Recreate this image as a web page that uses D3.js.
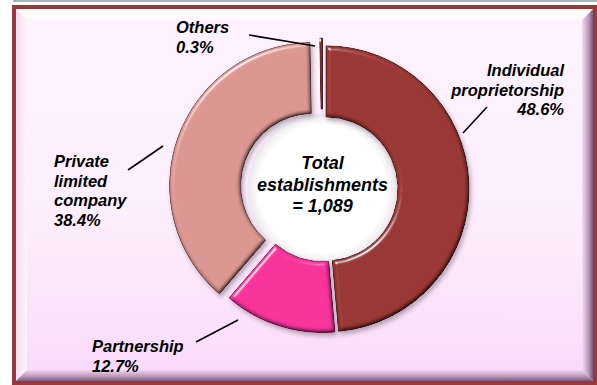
<!DOCTYPE html>
<html>
<head>
<meta charset="utf-8">
<script src="https://cdn.jsdelivr.net/npm/d3@7"></script>
<style>
  html, body { margin: 0; padding: 0; background: #ffffff; }
  svg { display: block; }
  text { font-family: "Liberation Sans", Arial, sans-serif; font-weight: bold; font-style: italic; fill: #000; }
</style>
</head>
<body>
<svg id="chart" width="597" height="385"></svg>
<script>
// Establishments by legal form (share of total, %)
const categories = ["Individual proprietorship", "Partnership", "Private limited company", "Others"];
const shares = [48.6, 12.7, 38.4, 0.3];
const totalEstablishments = 1089;
// label lines shown beside each slice
const labelLines = [["Individual", "proprietorship"], ["Partnership"], ["Private", "limited", "company"], ["Others"]];

// Styling
const sliceColors = ["#9a3835", "#f7349b", "#dc9792", "#8e2b2b"];
const explode = [3.5, 0.5, 10.5, 8];

// Label layout: text anchor, alignment and leader line ends
const labelLayout = [
  { x: 564, y: 76, anchor: "end",   leader: [[487, 107], [463, 133]] },
  { x: 92,  y: 352, anchor: "start", leader: [[196, 342], [238, 320]] },
  { x: 54,  y: 167, anchor: "start", leader: [[128, 170], [163, 146]] },
  { x: 176, y: 33,  anchor: "start", leader: [[249, 35], [315, 46]] }
];

const W = 597, H = 385;
const svg = d3.select("#chart");
const defs = svg.append("defs");

// ---- frame gradients ----
const bg = defs.append("linearGradient").attr("id", "bg").attr("x1", 0).attr("y1", 0).attr("x2", 0).attr("y2", 1);
bg.append("stop").attr("offset", "0%").attr("stop-color", "#fdf3fd");
bg.append("stop").attr("offset", "55%").attr("stop-color", "#fdeefd");
bg.append("stop").attr("offset", "100%").attr("stop-color", "#fadafa");

const gR = defs.append("linearGradient").attr("id", "bevR").attr("x1", 0).attr("y1", 0).attr("x2", 1).attr("y2", 0);
gR.append("stop").attr("offset", "0%").attr("stop-color", "#f6dcf6");
gR.append("stop").attr("offset", "60%").attr("stop-color", "#b99ab9");
gR.append("stop").attr("offset", "100%").attr("stop-color", "#7a587a");
const gB = defs.append("linearGradient").attr("id", "bevB").attr("x1", 0).attr("y1", 0).attr("x2", 0).attr("y2", 1);
gB.append("stop").attr("offset", "0%").attr("stop-color", "#f3d4f3");
gB.append("stop").attr("offset", "60%").attr("stop-color", "#b797b7");
gB.append("stop").attr("offset", "100%").attr("stop-color", "#7a587a");
const gT = defs.append("linearGradient").attr("id", "bevT").attr("x1", 0).attr("y1", 0).attr("x2", 0).attr("y2", 1);
gT.append("stop").attr("offset", "0%").attr("stop-color", "#ffffff");
gT.append("stop").attr("offset", "100%").attr("stop-color", "#fef8fe");
const gL = defs.append("linearGradient").attr("id", "bevL").attr("x1", 0).attr("y1", 0).attr("x2", 1).attr("y2", 0);
gL.append("stop").attr("offset", "0%").attr("stop-color", "#f4e0f4");
gL.append("stop").attr("offset", "100%").attr("stop-color", "#fdf2fd");

// hole fill
const hole = defs.append("radialGradient").attr("id", "hole");
hole.append("stop").attr("offset", "0%").attr("stop-color", "#ffffff");
hole.append("stop").attr("offset", "85%").attr("stop-color", "#ffffff");
hole.append("stop").attr("offset", "100%").attr("stop-color", "#ebe6ea");

// soft bevel + shadow for slices
const f = defs.append("filter").attr("id", "soft")
  .attr("x", "-20%").attr("y", "-20%").attr("width", "140%").attr("height", "140%");
f.append("feGaussianBlur").attr("in", "SourceAlpha").attr("stdDeviation", 2).attr("result", "b");
const diff = f.append("feDiffuseLighting").attr("in", "b").attr("surfaceScale", 4)
  .attr("diffuseConstant", 1).attr("lighting-color", "#ffffff").attr("result", "d");
diff.append("feDistantLight").attr("azimuth", 235).attr("elevation", 60);
f.append("feComposite").attr("in", "SourceGraphic").attr("in2", "d").attr("operator", "arithmetic")
  .attr("k1", 1.155).attr("k2", 0).attr("k3", 0).attr("k4", 0).attr("result", "shade");
const spec = f.append("feSpecularLighting").attr("in", "b").attr("surfaceScale", 4)
  .attr("specularConstant", 1).attr("specularExponent", 45).attr("lighting-color", "#ffffff").attr("result", "s");
spec.append("feDistantLight").attr("azimuth", 235).attr("elevation", 35);
f.append("feComposite").attr("in", "s").attr("in2", "SourceAlpha").attr("operator", "in").attr("result", "si");
const m0 = f.append("feMerge").attr("result", "lit");
m0.append("feMergeNode").attr("in", "shade");
m0.append("feMergeNode").attr("in", "si");
f.append("feComposite").attr("in", "lit").attr("in2", "SourceAlpha").attr("operator", "in").attr("result", "litIn");
f.append("feGaussianBlur").attr("in", "SourceAlpha").attr("stdDeviation", 2).attr("result", "sb");
f.append("feOffset").attr("in", "sb").attr("dx", 2).attr("dy", 3).attr("result", "so");
f.append("feFlood").attr("flood-color", "#3a2a3a").attr("flood-opacity", 0.35).attr("result", "fc");
f.append("feComposite").attr("in", "fc").attr("in2", "so").attr("operator", "in").attr("result", "shadow");
const m = f.append("feMerge");
m.append("feMergeNode").attr("in", "shadow");
m.append("feMergeNode").attr("in", "litIn");

// ---- frame ----
svg.append("rect").attr("x", 13).attr("y", 0).attr("width", W - 13).attr("height", 2).attr("fill", "#a3b5bd");
svg.append("rect").attr("x", 12).attr("y", 5).attr("width", W - 12).attr("height", H - 5).attr("fill", "#993838");
const ix0 = 16, iy0 = 9, ix1 = 593, iy1 = 381, bw = 11;
svg.append("rect").attr("x", ix0).attr("y", iy0).attr("width", ix1 - ix0).attr("height", iy1 - iy0).attr("fill", "url(#bg)");
const poly = (pts, fill) => svg.append("polygon").attr("points", pts.map(p => p.join(",")).join(" ")).attr("fill", fill);
poly([[ix0, iy0], [ix1, iy0], [ix1 - bw, iy0 + bw], [ix0 + bw, iy0 + bw]], "url(#bevT)");
poly([[ix0, iy0], [ix0 + bw, iy0 + bw], [ix0 + bw, iy1 - bw], [ix0, iy1]], "url(#bevL)");
poly([[ix1, iy0], [ix1, iy1], [ix1 - bw, iy1 - bw], [ix1 - bw, iy0 + bw]], "url(#bevR)");
poly([[ix0, iy1], [ix1, iy1], [ix1 - bw, iy1 - bw], [ix0 + bw, iy1 - bw]], "url(#bevB)");

// ---- donut ----
const cx = 322.5, cy = 189, R = 143, r = 72;
const data = categories.map((c, i) => ({ name: c, value: shares[i], i }));
const pie = d3.pie().sort(null).value(d => d.value).startAngle(0).endAngle(2 * Math.PI);
const arc = d3.arc().innerRadius(r).outerRadius(R);
const arcs = pie(data);

const g = svg.append("g").attr("transform", `translate(${cx},${cy})`);
g.append("circle").attr("r", r + 3).attr("fill", "url(#hole)");

g.selectAll("path.slice").data(arcs).join("path")
  .attr("class", "slice")
  .attr("transform", d => {
    const a = (d.startAngle + d.endAngle) / 2, e = explode[d.data.i];
    return `translate(${e * Math.sin(a)},${-e * Math.cos(a)})`;
  })
  .attr("d", arc)
  .attr("fill", d => sliceColors[d.data.i])
  .attr("stroke", d => d3.color(sliceColors[d.data.i]).darker(1.6))
  .attr("stroke-width", 1)
  .attr("filter", "url(#soft)");

// centre caption
const cap = svg.append("text").attr("x", cx).attr("y", 169).attr("text-anchor", "middle").style("font-size", "18px");
["Total", "establishments", "= " + d3.format(",")(totalEstablishments)].forEach((t, k) =>
  cap.append("tspan").attr("x", cx).attr("dy", k === 0 ? 0 : 21.5).text(t));

// ---- labels and leader lines ----
const fmt = d3.format(".1f");
labelLayout.forEach((L, i) => {
  svg.append("line")
    .attr("x1", L.leader[0][0]).attr("y1", L.leader[0][1])
    .attr("x2", L.leader[1][0]).attr("y2", L.leader[1][1])
    .attr("stroke", "#000").attr("stroke-width", 1.6);
  const t = svg.append("text").attr("x", L.x).attr("y", L.y)
    .attr("text-anchor", L.anchor).style("font-size", "16.5px");
  labelLines[i].concat([fmt(shares[i]) + "%"]).forEach((s, k) =>
    t.append("tspan").attr("x", L.x).attr("dy", k === 0 ? 0 : 19.5).text(s));
});
</script>
</body>
</html>
